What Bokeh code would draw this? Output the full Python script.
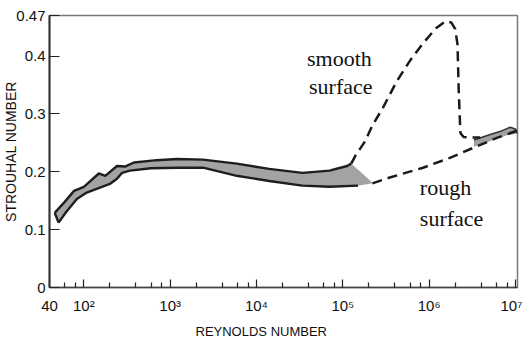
from bokeh.plotting import figure
from bokeh.models import Range1d, FixedTicker, Label, Title
from bokeh.embed import file_html
from bokeh.resources import INLINE

# ---- data ----
# shaded band (subcritical range)
band_upper_re = [46, 60, 77, 100, 149, 177, 242, 300, 380, 700, 1200, 2400, 5900, 14000, 34000, 70000, 112000, 125000]
band_upper_st = [0.129, 0.148, 0.167, 0.174, 0.197, 0.193, 0.210, 0.209, 0.216, 0.220, 0.222, 0.221, 0.214, 0.205, 0.198, 0.202, 0.210, 0.214]
band_tip_re = [160000, 220000]
band_tip_st = [0.200, 0.181]
band_lower_re = [51, 62, 83, 108, 200, 242, 277, 342, 600, 1200, 2400, 5900, 14000, 34000, 70000, 150000, 220000]
band_lower_st = [0.112, 0.130, 0.153, 0.164, 0.179, 0.188, 0.198, 0.202, 0.206, 0.207, 0.207, 0.193, 0.184, 0.176, 0.174, 0.176, 0.180]

# smooth surface (dashed)
smooth_re = [1.25e5, 1.4e5, 1.8e5, 2.2e5, 2.9e5, 4.2e5, 6.0e5, 8.5e5, 1.2e6, 1.55e6, 1.8e6, 2.0e6, 2.13e6, 2.2e6, 2.3e6, 2.5e6, 3.0e6, 3.9e6]
smooth_st = [0.214, 0.228, 0.252, 0.280, 0.310, 0.356, 0.392, 0.422, 0.448, 0.460, 0.458, 0.447, 0.420, 0.340, 0.267, 0.260, 0.259, 0.259]

# rough surface (dashed)
rough_re = [2.2e5, 3.5e5, 8.5e5, 1.74e6, 3.2e6, 6.2e6, 1.05e7]
rough_st = [0.180, 0.190, 0.207, 0.224, 0.241, 0.259, 0.271]

# shaded band (supercritical range)
band2_upper_re = [3.3e6, 5.0e6, 7.0e6, 8.7e6, 1.0e7, 1.05e7]
band2_upper_st = [0.255, 0.264, 0.271, 0.277, 0.274, 0.266]
band2_lower_re = [1.05e7, 8.0e6, 6.0e6, 4.5e6, 3.3e6]
band2_lower_st = [0.266, 0.263, 0.257, 0.250, 0.243]

# axes
x_major = [40, 1e2, 1e3, 1e4, 1e5, 1e6, 1e7]
x_major_labels = ["40", "10\u00b2", "10\u00b3", "10\u2074", "10\u2075", "10\u2076", "10\u2077"]
x_minor = [60, 80] + [m * 10 ** k for k in range(2, 7) for m in (2, 4, 6, 8)]
y_ticks = [0, 0.1, 0.2, 0.3, 0.4, 0.47]
y_tick_labels = ["0", "0.1", "0.2", "0.3", "0.4", "0.47"]

SANS = "Liberation Sans"
SERIF = "Liberation Serif"

p = figure(width=522, height=343, x_axis_type="log",
           x_range=Range1d(40, 1.055e7), y_range=Range1d(0, 0.47),
           output_backend="svg", toolbar_location=None,
           min_border_left=48, min_border_right=5, min_border_top=15, min_border_bottom=56)
p.background_fill_color = "white"
p.border_fill_color = "white"
p.outline_line_color = "#7a7a7a"
p.outline_line_width = 1.5
p.xgrid.visible = False
p.ygrid.visible = False

# x axis
xa = p.xaxis[0]
xa.ticker = FixedTicker(ticks=x_major, minor_ticks=x_minor)
xa.major_label_overrides = dict(zip(x_major, x_major_labels))
xa.major_tick_in = 8
xa.major_tick_out = 0
xa.minor_tick_in = 5
xa.minor_tick_out = 0
xa.axis_line_color = "#444444"
xa.axis_line_width = 1.5
xa.major_tick_line_color = "#222222"
xa.minor_tick_line_color = "#222222"
xa.major_tick_line_width = 1.2
xa.minor_tick_line_width = 1.2
xa.major_label_text_font = SANS
xa.major_label_text_font_size = "15px"
xa.major_label_text_color = "#111111"
xa.major_label_standoff = 9

# y axis
ya = p.yaxis[0]
ya.ticker = FixedTicker(ticks=y_ticks, minor_ticks=[])
ya.major_label_overrides = dict(zip(y_ticks, y_tick_labels))
ya.major_tick_in = 10
ya.major_tick_out = 0
ya.axis_line_color = "#333333"
ya.axis_line_width = 2
ya.major_tick_line_color = "#222222"
ya.major_tick_line_width = 1.2
ya.major_label_text_font = SANS
ya.major_label_text_font_size = "15px"
ya.major_label_text_color = "#111111"
ya.major_label_standoff = 4
ya.axis_label = "STROUHAL NUMBER"
ya.axis_label_text_font = SANS
ya.axis_label_text_font_size = "14px"
ya.axis_label_text_font_style = "normal"
ya.axis_label_text_color = "#111111"
ya.axis_label_standoff = -6

# x axis title (left-shifted as in the reference)
p.add_layout(Title(text="REYNOLDS NUMBER", align="left", offset=146, standoff=10,
                   text_font=SANS, text_font_size="13px", text_font_style="normal",
                   text_color="#111111"), "below")

# bands
p.patch(band_upper_re + band_tip_re + band_lower_re[::-1],
        band_upper_st + band_tip_st + band_lower_st[::-1],
        fill_color="#a3a3a3", line_color=None)
p.line(band_upper_re, band_upper_st, line_color="#1e1e1e", line_width=2.4)
p.line(band_lower_re[:-1], band_lower_st[:-1], line_color="#1e1e1e", line_width=2.4)
p.line([band_upper_re[0], band_lower_re[0]], [band_upper_st[0], band_lower_st[0]],
       line_color="#1e1e1e", line_width=2.4)

p.patch(band2_upper_re + band2_lower_re, band2_upper_st + band2_lower_st,
        fill_color="#a0a0a0", line_color=None)
p.line(band2_upper_re, band2_upper_st, line_color="#333333", line_width=1.5)

# dashed curves
p.line(smooth_re, smooth_st, line_color="#1a1a1a", line_width=2.5, line_dash="10 6")
p.line(rough_re, rough_st, line_color="#1a1a1a", line_width=2.5, line_dash="10 6")

# annotations
for txt, x, y in [("smooth", 3.85e4, 0.395), ("surface", 4.06e4, 0.348),
                  ("rough", 7.8e5, 0.172), ("surface", 7.8e5, 0.119)]:
    p.add_layout(Label(x=x, y=y, text=txt, text_font=SERIF, text_font_size="22px",
                       text_color="#111111", text_align="left", text_baseline="alphabetic"))

open("out.html", "w").write(file_html(p, INLINE))
